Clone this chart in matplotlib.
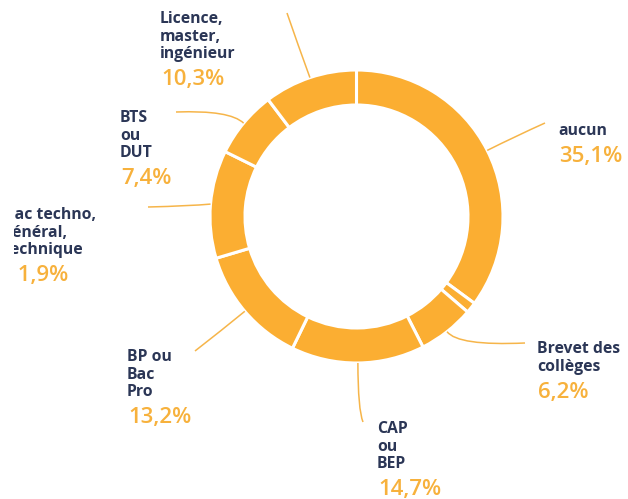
import matplotlib
matplotlib.use("Agg")
import matplotlib.pyplot as plt
import numpy as np
from matplotlib.path import Path
from matplotlib.patches import PathPatch
from matplotlib.transforms import Bbox, TransformedBbox

# ---- data ----
categories = ["aucun", "", "Brevet des\ncollèges", "CAP\nou\nBEP", "BP ou\nBac\nPro",
              "Bac techno,\ngénéral,\ntechnique", "BTS\nou\nDUT", "Licence,\nmaster,\ningénieur"]
values = [35.1, 1.2, 6.2, 14.7, 13.2, 11.9, 7.4, 10.3]
pct_labels = ["35,1%", "", "6,2%", "14,7%", "13,2%", "11,9%", "7,4%", "10,3%"]

# ---- layout (pixels, y from top) ----
W, H = 628, 499
CX, CY, R = 356.5, 216.5, 146.5
RING = 35
label_pos = {  # x, first baseline
    0: (558, 135), 2: (537, 353), 3: (377, 433), 4: (127, 361),
    5: (4, 219), 6: (120, 122), 7: (160, 23),
}
conn = {  # knee, end
    0: ((516, 136), (545, 123)),
    2: ((458, 346), (525, 343)),
    3: ((358, 410), (363, 422)),
    4: ((222, 330), (195, 351)),
    5: ((190, 206), (148, 207)),
    6: ((230, 110), (176, 112)),
    7: ((298, 45), (287, 13)),
}

RING_COLOR = "#FBAE32"
LINE_COLOR = "#F6B54A"
NAVY = "#2B3656"
PCT_COLOR = "#F7B13C"

fig = plt.figure(figsize=(W / 100, H / 100), dpi=100)
fig.patch.set_facecolor("white")

ax = fig.add_axes([(CX - R) / W, (H - CY - R) / H, 2 * R / W, 2 * R / H])
wedges, _ = ax.pie(values, startangle=90, counterclock=False, radius=1,
                   colors=[RING_COLOR] * len(values),
                   wedgeprops=dict(width=RING / R, edgecolor="white", linewidth=2.2))
ax.set_xlim(-1, 1)
ax.set_ylim(-1, 1)
ax.axis("off")

ov = fig.add_axes([0, 0, 1, 1])
ov.set_xlim(0, W)
ov.set_ylim(H, 0)
ov.axis("off")
ov.patch.set_alpha(0)

clip_lab = TransformedBbox(Bbox([[14.5 / W, 0], [1, 1]]), fig.transFigure)
clip_pct = TransformedBbox(Bbox([[16.5 / W, 0], [1, 1]]), fig.transFigure)

cum = np.cumsum([0] + values[:-1])
total = sum(values)
for i, (cat, v) in enumerate(zip(categories, values)):
    if i not in label_pos:
        continue
    mid = (cum[i] + v / 2) / total * 2 * np.pi
    ax_pt = (CX + R * np.sin(mid), CY - R * np.cos(mid))
    knee, end = conn[i]
    path = Path([ax_pt, knee, end], [Path.MOVETO, Path.CURVE3, Path.CURVE3])
    ov.add_patch(PathPatch(path, fill=False, edgecolor=LINE_COLOR, lw=1.1))
    x, y = label_pos[i]
    lines = cat.split("\n")
    for k, line in enumerate(lines):
        t = ov.text(x, y + 17.6 * k, line, fontsize=11.3, fontweight="bold",
                    color=NAVY, family="Open Sans", va="baseline", ha="left")
        t.set_clip_box(clip_lab)
        t.set_clip_on(True)
    t = ov.text(x + 1, y + 17.6 * (len(lines) - 1) + 27, pct_labels[i], fontsize=16,
                fontweight="semibold",
                color=PCT_COLOR, family="Open Sans", va="baseline", ha="left")
    t.set_clip_box(clip_pct)
    t.set_clip_on(True)

fig.savefig("out.png", dpi=100, facecolor="white")
